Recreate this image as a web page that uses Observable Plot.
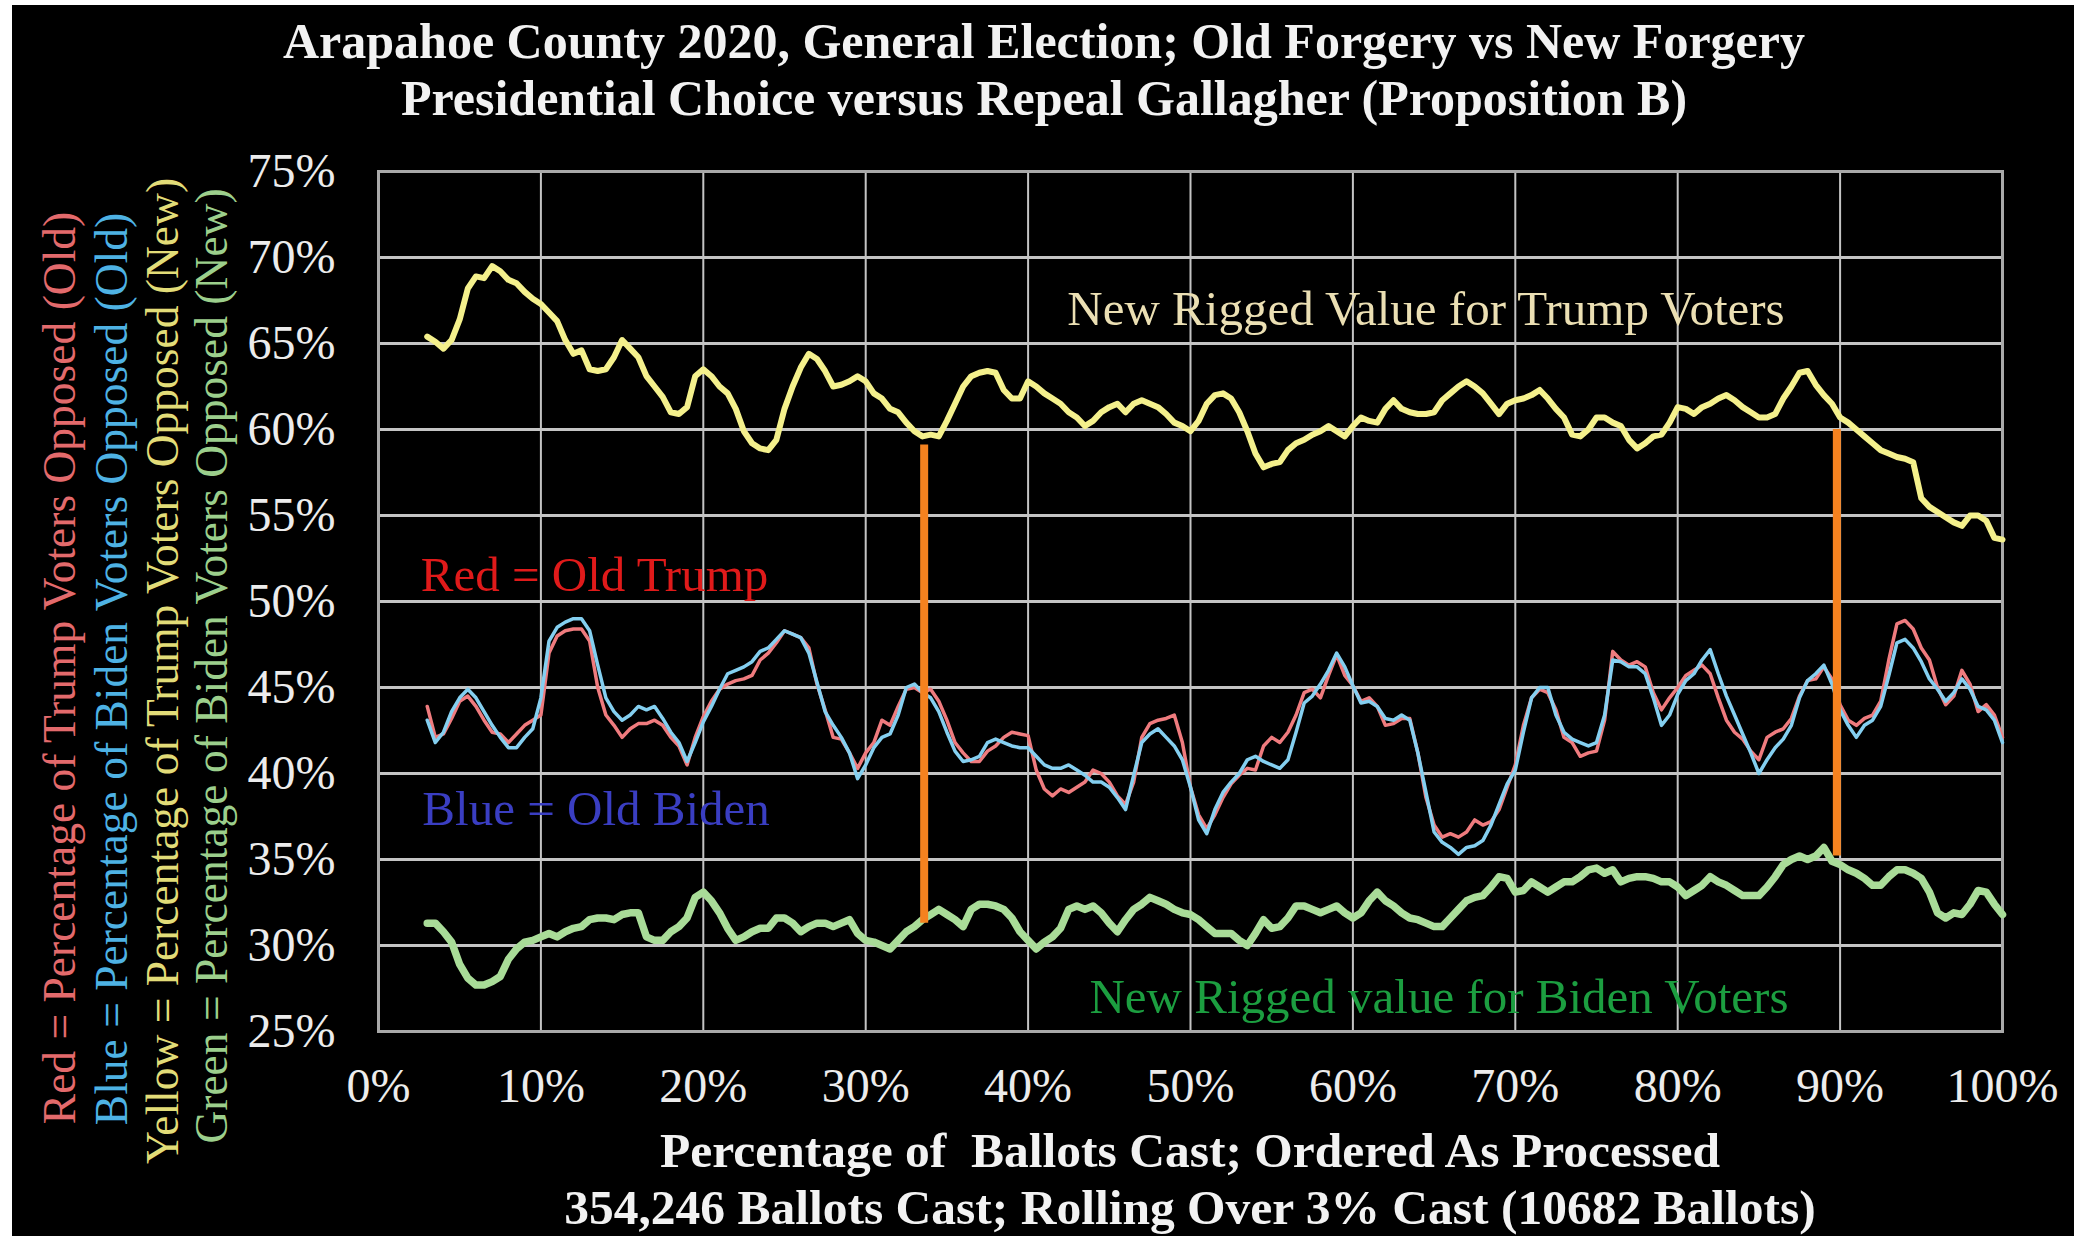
<!DOCTYPE html>
<html>
<head>
<meta charset="utf-8">
<script src="https://cdn.jsdelivr.net/npm/d3@7"></script>
<script src="https://cdn.jsdelivr.net/npm/@observablehq/plot@0.6"></script>
<style>
html,body{margin:0;padding:0;background:#fff;width:2074px;height:1236px;overflow:hidden}
#frame{position:absolute;left:12px;top:5px;width:2062px;height:1231px;background:#000;font-family:"Liberation Serif","DejaVu Serif",serif;color:#f2f2f2}
#title{height:125px;box-sizing:border-box;padding-top:8px;line-height:57px;text-align:center;font-weight:bold;font-size:50px;width:2064px;margin-left:0}
#chart{height:985px}
#caption{height:121px;box-sizing:border-box;padding-top:7px;line-height:57px;text-align:center;font-weight:bold;font-size:49.5px;width:2356px}
.leg{position:absolute;white-space:nowrap;font-size:45.5px;transform:translate(-50%,-50%) rotate(-90deg);line-height:1}
</style>
</head>
<body>
<div id="frame">
  <div id="title">Arapahoe County 2020, General Election; Old Forgery vs New Forgery<br>Presidential Choice versus Repeal Gallagher (Proposition B)</div>
  <div id="chart"></div>
  <div id="caption">Percentage of&nbsp; Ballots Cast; Ordered As Processed<br>354,246 Ballots Cast; Rolling Over 3% Cast (10682 Ballots)</div>
  <div class="leg" style="left:48px;top:663px;color:#e36a6c">Red = Percentage of Trump Voters Opposed (Old)</div>
  <div class="leg" style="left:100px;top:664px;color:#4eb2e4">Blue = Percentage of Biden Voters Opposed (Old)</div>
  <div class="leg" style="left:151px;top:666px;color:#e2dc78">Yellow = Percentage of Trump Voters Opposed (New)</div>
  <div class="leg" style="left:200px;top:661px;color:#9ccf8c">Green = Percentage of Biden Voters Opposed (New)</div>
</div>
<script>
// x positions: percentage of ballots cast
const pctCast = [3,3.5,4,4.5,5,5.5,6,6.5,7,7.5,8,8.5,9,9.5,10,10.5,11,11.5,12,12.5,13,13.5,14,14.5,15,15.5,16,16.5,17,17.5,18,18.5,19,19.5,20,20.5,21,21.5,22,22.5,23,23.5,24,24.5,25,25.5,26,26.5,27,27.5,28,28.5,29,29.5,30,30.5,31,31.5,32,32.5,33,33.5,34,34.5,35,35.5,36,36.5,37,37.5,38,38.5,39,39.5,40,40.5,41,41.5,42,42.5,43,43.5,44,44.5,45,45.5,46,46.5,47,47.5,48,48.5,49,49.5,50,50.5,51,51.5,52,52.5,53,53.5,54,54.5,55,55.5,56,56.5,57,57.5,58,58.5,59,59.5,60,60.5,61,61.5,62,62.5,63,63.5,64,64.5,65,65.5,66,66.5,67,67.5,68,68.5,69,69.5,70,70.5,71,71.5,72,72.5,73,73.5,74,74.5,75,75.5,76,76.5,77,77.5,78,78.5,79,79.5,80,80.5,81,81.5,82,82.5,83,83.5,84,84.5,85,85.5,86,86.5,87,87.5,88,88.5,89,89.5,90,90.5,91,91.5,92,92.5,93,93.5,94,94.5,95,95.5,96,96.5,97,97.5,98,98.5,99,99.5,100];

// Yellow = Trump voters opposed (New)
const yellowNew = [65.4,65.1,64.7,65.2,66.4,68.2,68.9,68.8,69.5,69.2,68.7,68.5,68.0,67.6,67.3,66.8,66.3,65.2,64.4,64.6,63.5,63.4,63.5,64.2,65.2,64.7,64.2,63.1,62.5,61.9,61.0,60.9,61.3,63.1,63.5,63.1,62.5,62.1,61.2,59.9,59.2,58.9,58.8,59.4,61.2,62.5,63.6,64.4,64.1,63.4,62.5,62.6,62.8,63.1,62.8,62.1,61.8,61.2,61.0,60.4,59.9,59.6,59.7,59.6,60.5,61.5,62.5,63.1,63.3,63.4,63.3,62.3,61.8,61.8,62.8,62.5,62.1,61.8,61.5,61.0,60.7,60.2,60.5,61.0,61.3,61.5,61.0,61.5,61.7,61.5,61.3,60.9,60.4,60.2,59.9,60.5,61.5,62.0,62.1,61.8,61.0,59.9,58.6,57.8,58.0,58.1,58.8,59.2,59.4,59.7,59.9,60.2,59.9,59.6,60.2,60.7,60.5,60.4,61.2,61.7,61.2,61.0,60.9,60.9,61.0,61.7,62.1,62.5,62.8,62.5,62.1,61.5,60.9,61.5,61.7,61.8,62.0,62.3,61.8,61.2,60.7,59.7,59.6,60.0,60.7,60.7,60.4,60.2,59.4,58.9,59.2,59.6,59.7,60.4,61.3,61.2,60.9,61.3,61.5,61.8,62.0,61.7,61.3,61.0,60.7,60.7,60.9,61.8,62.5,63.3,63.4,62.6,62.0,61.5,60.7,60.4,60.0,59.6,59.2,58.8,58.6,58.4,58.3,58.1,56.0,55.5,55.2,54.9,54.6,54.4,55.0,55.0,54.7,53.7,53.6];

// Green = Biden voters opposed (New)
const greenNew = [31.3,31.3,30.8,30.2,28.9,28.1,27.7,27.7,27.9,28.2,29.2,29.8,30.2,30.3,30.5,30.7,30.5,30.8,31.0,31.1,31.5,31.6,31.6,31.5,31.8,31.9,31.9,30.5,30.3,30.3,30.8,31.1,31.6,32.8,33.1,32.6,31.9,31.0,30.3,30.5,30.8,31.0,31.0,31.6,31.6,31.3,30.8,31.1,31.3,31.3,31.1,31.3,31.5,30.7,30.3,30.2,30.0,29.8,30.3,30.8,31.1,31.5,31.8,32.1,31.8,31.5,31.1,32.1,32.4,32.4,32.3,32.1,31.6,30.8,30.3,29.8,30.2,30.5,31.0,32.1,32.3,32.1,32.3,31.9,31.3,30.8,31.5,32.1,32.4,32.8,32.6,32.4,32.1,31.9,31.8,31.5,31.1,30.7,30.7,30.7,30.3,30.0,30.7,31.5,31.0,31.1,31.6,32.3,32.3,32.1,31.9,32.1,32.3,31.9,31.6,31.9,32.6,33.1,32.6,32.3,31.9,31.6,31.5,31.3,31.1,31.1,31.6,32.1,32.6,32.8,32.9,33.4,34.0,33.9,33.1,33.2,33.7,33.4,33.1,33.4,33.7,33.7,34.0,34.4,34.5,34.2,34.4,33.7,33.9,34.0,34.0,33.9,33.7,33.7,33.4,32.9,33.2,33.5,34.0,33.7,33.5,33.2,32.9,32.9,32.9,33.4,34.0,34.7,35.0,35.2,35.0,35.2,35.7,34.9,34.7,34.4,34.2,33.9,33.5,33.5,34.0,34.4,34.4,34.2,33.9,33.1,31.9,31.6,31.9,31.8,32.4,33.2,33.1,32.4,31.8];

// Red = Trump voters opposed (Old)
const redOld = [43.9,42.1,42.3,43.2,44.2,44.5,43.9,43.1,42.4,42.3,41.8,42.3,42.8,43.1,43.4,47.0,48.0,48.3,48.4,48.4,47.7,45.0,43.4,42.8,42.1,42.6,42.9,42.9,43.1,42.8,42.1,41.6,40.5,42.1,43.3,44.2,44.9,45.2,45.4,45.5,45.7,46.6,47.0,47.6,48.3,48.1,47.9,47.3,45.2,43.7,42.1,42.0,41.2,40.3,41.2,41.8,43.1,42.8,43.9,44.9,45.0,44.7,44.9,44.2,43.1,41.8,41.2,40.7,40.7,41.3,41.6,42.1,42.4,42.3,42.2,40.2,39.1,38.7,39.1,38.9,39.2,39.5,40.2,40.0,39.5,38.7,38.2,39.5,42.1,42.9,43.1,43.2,43.4,41.8,39.2,37.6,36.8,37.6,38.6,39.4,39.9,40.3,40.2,41.6,42.1,41.8,42.4,43.4,44.7,44.9,44.4,45.7,46.9,45.7,45.1,44.2,44.4,43.9,42.8,42.9,43.2,43.2,41.2,38.6,37.0,36.3,36.5,36.3,36.6,37.3,37.0,37.2,37.9,39.2,40.5,42.8,44.4,44.9,44.7,43.7,42.1,41.8,41.0,41.2,41.3,43.1,47.1,46.6,46.3,46.5,46.2,44.7,43.7,44.4,45.0,45.7,46.0,46.3,45.8,44.4,43.1,42.4,42.0,41.3,40.8,42.1,42.4,42.6,43.2,44.5,45.4,45.5,46.2,45.5,44.0,43.1,42.8,43.2,43.4,44.2,46.6,48.7,48.9,48.4,47.3,46.6,45.0,44.0,44.5,46.0,45.2,43.6,44.0,43.4,42.1];

// Blue = Biden voters opposed (Old)
const blueOld = [43.1,41.8,42.4,43.6,44.4,44.9,44.4,43.6,42.8,42.1,41.5,41.5,42.1,42.6,44.4,47.7,48.5,48.8,49.0,49.0,48.3,46.3,44.4,43.6,43.1,43.4,43.9,43.7,43.9,43.2,42.4,41.8,40.7,41.8,43.0,43.9,44.9,45.8,46.0,46.2,46.5,47.1,47.3,47.8,48.3,48.1,47.9,47.0,45.3,43.6,42.8,42.1,41.2,39.7,40.5,41.5,42.1,42.3,43.4,45.0,45.2,44.7,44.4,43.6,42.4,41.3,40.7,40.8,41.0,41.8,42.0,41.8,41.6,41.5,41.5,41.0,40.5,40.3,40.3,40.5,40.2,39.9,39.5,39.5,39.2,38.6,37.9,39.9,41.8,42.3,42.6,42.1,41.6,40.8,39.2,37.3,36.5,37.9,38.9,39.5,40.0,40.8,41.0,40.7,40.5,40.3,40.8,42.4,44.1,44.5,45.2,46.0,47.0,46.2,45.1,44.1,44.2,43.9,43.2,43.1,43.4,43.1,41.2,38.9,36.6,36.0,35.7,35.3,35.7,35.8,36.1,37.0,38.2,39.4,40.2,42.4,44.4,45.0,45.0,43.4,42.4,42.0,41.8,41.6,41.8,43.4,46.6,46.5,46.2,46.2,45.8,44.4,42.8,43.4,44.6,45.4,45.8,46.6,47.2,45.8,44.5,43.4,42.3,41.2,40.0,40.8,41.5,42.0,42.8,44.4,45.4,45.8,46.3,45.2,43.7,42.8,42.1,42.8,43.1,43.9,45.7,47.6,47.8,47.3,46.5,45.5,44.9,44.2,44.7,45.5,44.9,43.9,43.7,43.1,41.8];

// Tick values
const yTicks = [25,30,35,40,45,50,55,60,65,70,75];
const xTicks = [0,10,20,30,40,50,60,70,80,90,100];

// Orange highlight bars: position and span
const barX = [33.6, 89.8];
const barLow = [31.3, 35.2];
const barHigh = [59.1, 60.0];

// In-chart annotations
const noteText = ["New Rigged Value for Trump Voters","New Rigged value for Biden Voters","Red = Old Trump","Blue = Old Biden"];
const noteX = [64.5, 65.3, 2.6, 2.7];
const noteY = [67.0, 27.0, 51.5, 37.9];
const noteColor = ["#ebdfb3","#1c9e40","#e01a1a","#3a3ec2"];
const noteAnchor = ["middle","middle","start","start"];

const mk = vals => pctCast.map((x, i) => ({x, y: vals[i]}));
const bars = barX.map((x, i) => ({x, y1: barLow[i], y2: barHigh[i]}));
const notes = noteText.map((t, i) => ({t, x: noteX[i], y: noteY[i], c: noteColor[i], a: noteAnchor[i]}));

const chart = Plot.plot({
  width: 2062,
  height: 985,
  marginLeft: 366,
  marginRight: 72,
  marginTop: 41,
  marginBottom: 84,
  style: {background: "#000", color: "#ececec", fontFamily: "'Liberation Serif','DejaVu Serif',serif", overflow: "visible"},
  x: {domain: [0, 100]},
  y: {domain: [25, 75]},
  marks: [
    Plot.gridY(yTicks, {stroke: "#c4c4c4", strokeOpacity: 1, strokeWidth: 3}),
    Plot.gridX(xTicks, {stroke: "#c4c4c4", strokeOpacity: 1, strokeWidth: 2}),
    Plot.frame({stroke: "#a9a9a9", strokeWidth: 3}),
    Plot.axisY(yTicks, {tickFormat: d => d + "%", tickSize: 0, tickPadding: 43, fontSize: 48, label: null}),
    Plot.axisX(xTicks, {tickFormat: d => d + "%", tickSize: 0, tickPadding: 36, fontSize: 48, label: null}),
    Plot.line(mk(greenNew), {x: "x", y: "y", stroke: "#a9dc98", strokeWidth: 7.5, strokeLinejoin: "round", strokeLinecap: "round"}),
    Plot.line(mk(yellowNew), {x: "x", y: "y", stroke: "#f4f08c", strokeWidth: 6, strokeLinejoin: "round", strokeLinecap: "round"}),
    Plot.line(mk(redOld), {x: "x", y: "y", stroke: "#ef7b7e", strokeWidth: 3.5, strokeLinejoin: "round", strokeLinecap: "round"}),
    Plot.line(mk(blueOld), {x: "x", y: "y", stroke: "#84cff0", strokeWidth: 3.5, strokeLinejoin: "round", strokeLinecap: "round"}),
    Plot.ruleX(bars, {x: "x", y1: "y1", y2: "y2", stroke: "#f5821f", strokeWidth: 8}),
    Plot.text(notes.filter(d => d.a === "middle"), {x: "x", y: "y", text: "t", fill: "c", textAnchor: "middle", fontSize: 49}),
    Plot.text(notes.filter(d => d.a === "start"), {x: "x", y: "y", text: "t", fill: "c", textAnchor: "start", fontSize: 49})
  ]
});
document.getElementById("chart").appendChild(chart);
</script>
</body>
</html>
